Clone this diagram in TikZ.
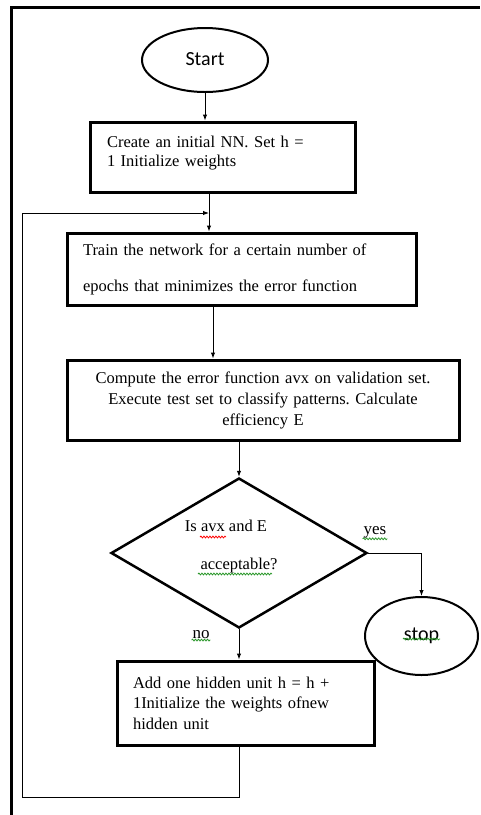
\documentclass[tikz,border=0pt]{standalone}
\usepackage{fontspec}
\setmainfont{Liberation Serif}
\newfontfamily\calibri{Carlito}
\usepackage{xcolor}
\usepackage{tikz}
\usetikzlibrary{shapes}
\usetikzlibrary{arrows.meta}
\usetikzlibrary{decorations.pathmorphing}

\definecolor{spellgreen}{RGB}{40,150,40}
\frenchspacing

\tikzset{
  stepbox/.style={draw, rectangle, line width=3pt, inner ysep=0pt, font=\fontsize{16.5}{19}\selectfont},
  termnode/.style={draw, ellipse, line width=2pt, inner sep=0pt, font=\calibri\fontsize{20}{24}\selectfont},
  arr/.style={-{Latex[length=6pt,width=4.5pt]}, line width=1pt},
  lbl/.style={inner sep=0.75pt, font=\fontsize{17}{20}\selectfont},
  squig/.style={line width=0.8pt, decorate, decoration={snake, segment length=3pt, amplitude=0.9pt}}
}

\begin{document}
\begin{tikzpicture}[x=1pt,y=1pt,yscale=-1,xscale=1]
    \useasboundingbox (0,0) rectangle (480,815);
    % frame
    \draw [line width=2.5pt] (11.5,815) -- (11.5,7.5) -- (480,7.5) ;
    % steps
    \node [termnode, minimum width=126, minimum height=64] (start) at (205,60) {\raisebox{2pt}{Start}};
    \node [stepbox, text width=231, inner xsep=17, minimum height=70, align=left] (init) at (222.5,157)
        {Create an initial NN. Set h =\\1 Initialize weights\\[-8pt]\mbox{}};
    \node [stepbox, text width=317, inner xsep=16, minimum height=72, align=left,
        font=\fontsize{16.5}{36}\selectfont] (train) at (241.5,269)
        {Train the network for a certain number of\\epochs that minimizes the error function};
    \node [stepbox, text width=372, inner xsep=10, minimum height=80, align=center,
        font=\fontsize{16.5}{21}\selectfont] (eval) at (263,400)
        {Compute the error function avx on validation set.\\Execute test set to classify patterns. Calculate\\efficiency E};
    \node [draw, diamond, aspect=1.7, line width=2.5pt, minimum width=256, minimum height=150, inner sep=0pt,
        align=center, font=\fontsize{16.5}{38}\selectfont] (dec) at (239,553)
        {Is avx and E\hspace*{26pt}\\acceptable?\\[-22pt]\mbox{}};
    \node [termnode, minimum width=113, minimum height=78] (stop) at (421.5,636) {\raisebox{4pt}{stop}};
    \node [stepbox, text width=225, inner xsep=16, minimum height=84, align=left,
        font=\fontsize{16.5}{20.5}\selectfont] (add) at (245.5,703)
        {Add one hidden unit h = h +\\1Initialize the weights ofnew\\hidden unit};
    \node [lbl] (yes) at (375,532) {yes};
    \node [lbl] (no) at (201,635) {no};
    \coordinate (loopin) at (209,213);
    \coordinate (loopcorner) at (22,797);
    % connectors
    \draw [arr] (start.south) -- (start.south |- init.north) ;
    \draw [arr] (init.south -| loopin) -- (train.north -| loopin) ;
    \draw [arr] ([xshift=-28.5pt]train.south) -- ([xshift=-28.5pt]train.south |- eval.north) ;
    \draw [arr] (dec.north |- eval.south) -- (dec.north) ;
    \draw [arr] (dec.east) -| (stop.north) ;
    \draw [arr] (dec.south) -- (dec.south |- add.north) ;
    \draw [arr] (add.south -| dec.south) |- (loopcorner) |- (loopin) ;
    % spelling marks
    \draw [squig, red] (200,537) -- (226,537) ;
    \draw [squig, spellgreen] (198,574) -- (272,574) ;
    \draw [squig, spellgreen] (yes.south west) -- (yes.south east) ;
    \draw [squig, spellgreen] (no.south west) -- (no.south east) ;
    \draw [squig, spellgreen] (403,639) -- (440,639) ;
\end{tikzpicture}
\end{document}
